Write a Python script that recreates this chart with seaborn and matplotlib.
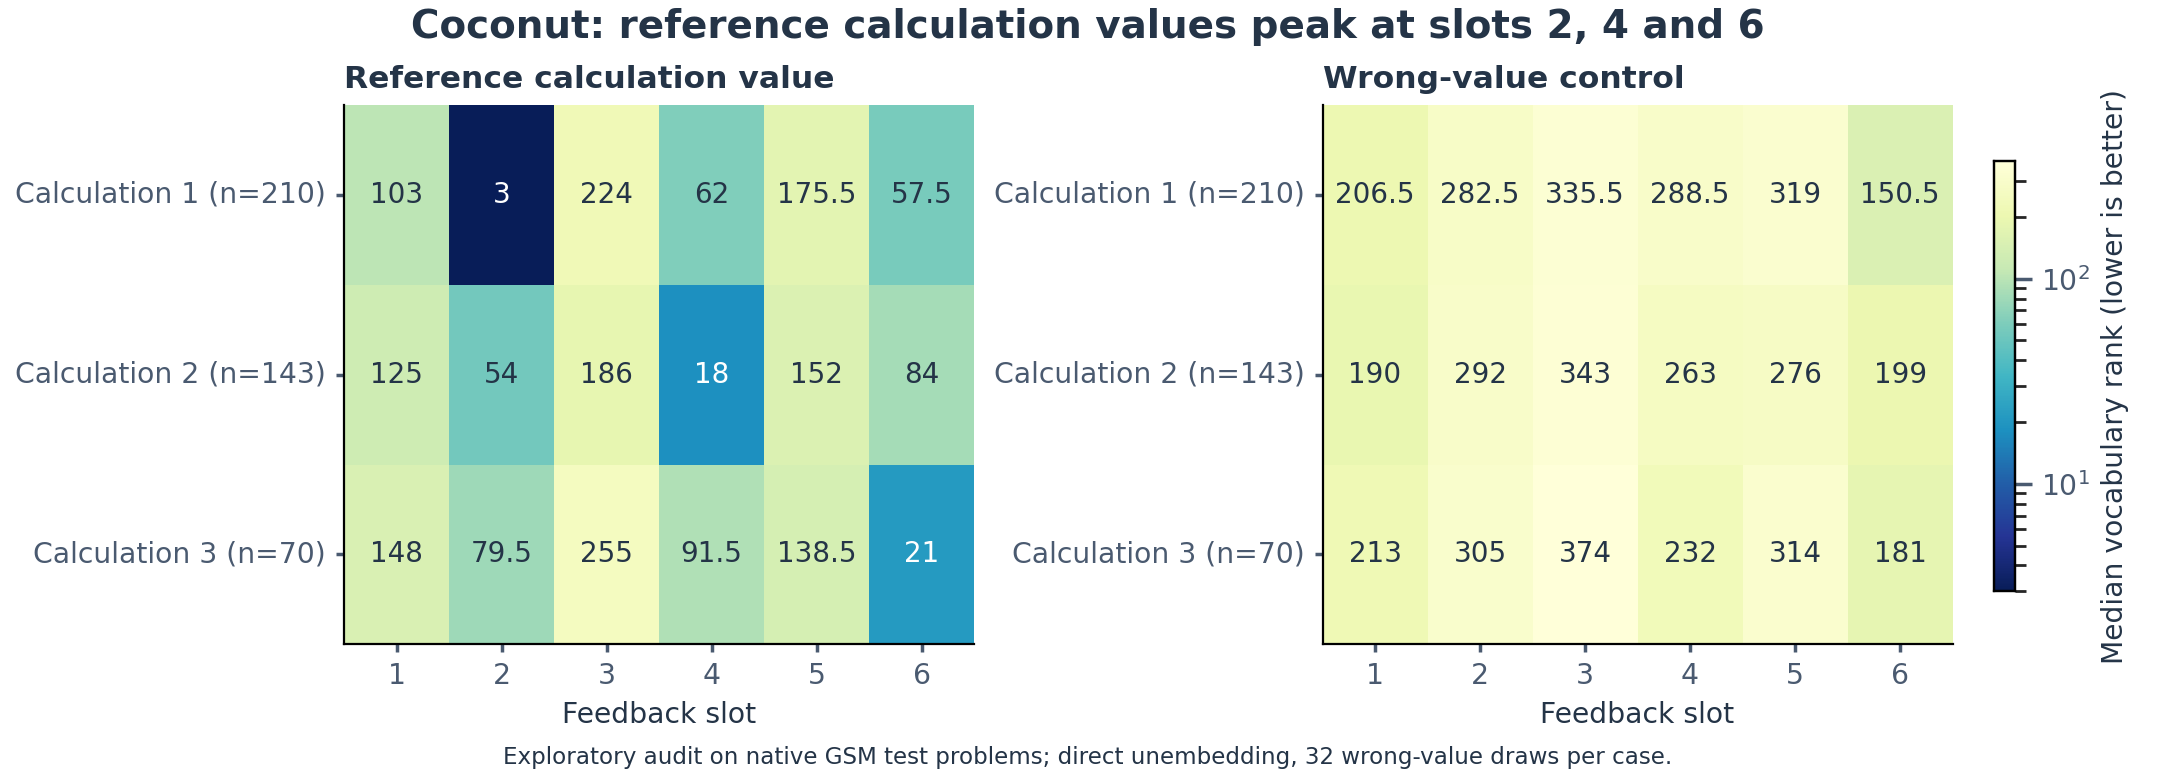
import numpy as np
import pandas as pd
import matplotlib
matplotlib.use("Agg")
import matplotlib.pyplot as plt
import seaborn as sns
from matplotlib.colors import LogNorm

rows = ["Calculation 1 (n=210)", "Calculation 2 (n=143)", "Calculation 3 (n=70)"]
slots = ["1", "2", "3", "4", "5", "6"]
ref_vals = [[103, 3, 224, 62, 175.5, 57.5],
            [125, 54, 186, 18, 152, 84],
            [148, 79.5, 255, 91.5, 138.5, 21]]
wrong_vals = [[206.5, 282.5, 335.5, 288.5, 319, 150.5],
              [190, 292, 343, 263, 276, 199],
              [213, 305, 374, 232, 314, 181]]

sns.set_theme(style="white")
plt.rcParams['font.family'] = ['DejaVu Sans']
dark = "#243447"
grey = "#4a5a70"

fig = plt.figure(figsize=(10.88, 3.88), dpi=200)
ax1 = fig.add_axes([248/1568, 1-460/554, 454/1568, 385/554])
ax2 = fig.add_axes([953/1568, 1-460/554, 454/1568, 385/554])
cax = fig.add_axes([1437/1568, 1-422/554, 15/1568, 307/554])

norm = LogNorm(vmin=3, vmax=374)
cmap = "YlGnBu_r"

def fmt(v):
    return f"{v:g}"

for ax, vals, title, cb in [(ax1, ref_vals, "Reference calculation value", False),
                            (ax2, wrong_vals, "Wrong-value control", True)]:
    df = pd.DataFrame(vals, index=rows, columns=slots)
    annot = np.array([[fmt(v) for v in r] for r in vals])
    sns.heatmap(df, ax=ax, cmap=cmap, norm=norm, annot=annot, fmt="",
                annot_kws={"fontsize": 10}, cbar=cb, cbar_ax=cax if cb else None,
                cbar_kws={"label": "Median vocabulary rank (lower is better)"} if cb else None)
    for t in ax.texts:
        if t.get_color() not in ("w", "white", "#ffffff") and t.get_color() != (1, 1, 1):
            t.set_color(dark)
    ax.set_title(title, loc="left", fontsize=11.3, fontweight="bold", color=dark)
    ax.set_xlabel("Feedback slot", fontsize=10.2, color=dark)
    ax.set_ylabel("")
    ax.tick_params(axis="both", colors=grey, labelsize=10.2, length=3, left=True, bottom=True)
    ax.set_yticklabels(rows, rotation=0)
    for s in ["left", "bottom"]:
        ax.spines[s].set_visible(True)
        ax.spines[s].set_color("black")
        ax.spines[s].set_linewidth(0.8)

cax.tick_params(colors=grey, labelsize=10.2)
cax.yaxis.label.set_color(dark)
cax.yaxis.label.set_fontsize(10.2)
for s in cax.spines.values():
    s.set_visible(True); s.set_color("black"); s.set_linewidth(0.8)

fig.suptitle("Coconut: reference calculation values peak at slots 2, 4 and 6",
             x=0.5, y=0.99, fontsize=14, fontweight="bold", color=dark)
fig.text(0.5, 0.015, "Exploratory audit on native GSM test problems; direct unembedding, 32 wrong-value draws per case.",
         ha="center", fontsize=8.3, color=dark)
fig.savefig("out.png", dpi=200)
